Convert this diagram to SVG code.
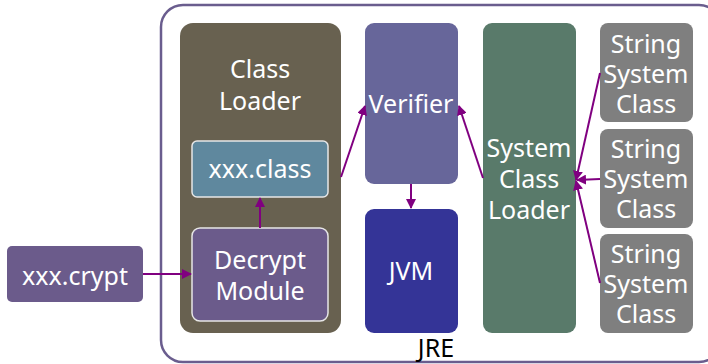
<svg xmlns="http://www.w3.org/2000/svg" width="708" height="364" viewBox="0 0 708 364">
  <style>
    .lbl { font-family: "Noto Sans", "DejaVu Sans", sans-serif; font-size: 25px; fill: #ffffff; text-anchor: middle; }
    .dark { fill: #000000; }
    .conn { stroke: #800080; stroke-width: 2; fill: none; marker-end: url(#arrow); }
  </style>
  <defs>
    <marker id="arrow" viewBox="0 0 10 10" refX="9" refY="5" markerWidth="5" markerHeight="5" orient="auto" markerUnits="strokeWidth">
      <path d="M0,0 L10,5 L0,10 z" fill="#800080"/>
    </marker>
  </defs>
  <rect width="708" height="364" fill="#ffffff"/>

  <!-- JRE boundary -->
  <g id="jre">
    <rect x="161" y="5" width="560" height="357" rx="22" fill="none" stroke="#6a5d8e" stroke-width="2.5"/>
    <text class="lbl dark" x="436" y="357">JRE</text>
  </g>

  <g id="class-loader">
    <rect x="180" y="23" width="161" height="310" rx="13" fill="#686150"/>
    <text class="lbl" x="260" y="78">Class</text>
    <text class="lbl" x="260" y="110">Loader</text>
  </g>

  <g id="xxx-class">
    <rect x="192" y="141" width="136" height="56" rx="5" fill="#5f889e" stroke="#e6e6e6" stroke-width="1.5"/>
    <text class="lbl" x="260" y="178">xxx.class</text>
  </g>

  <g id="decrypt-module">
    <rect x="192" y="228" width="136" height="93" rx="8" fill="#6b5b8b" stroke="#e6e6e6" stroke-width="1.5"/>
    <text class="lbl" x="260" y="269">Decrypt</text>
    <text class="lbl" x="260" y="300">Module</text>
  </g>

  <g id="xxx-crypt">
    <rect x="7" y="246" width="136" height="56" rx="5" fill="#6b5b8b"/>
    <text class="lbl" x="75" y="285">xxx.crypt</text>
  </g>

  <g id="verifier">
    <rect x="365" y="23" width="93" height="161" rx="9" fill="#67669a"/>
    <text class="lbl" x="411" y="113">Verifier</text>
  </g>

  <g id="jvm">
    <rect x="365" y="209" width="93" height="124" rx="9" fill="#343497"/>
    <text class="lbl" x="411" y="280">JVM</text>
  </g>

  <g id="system-class-loader">
    <rect x="483" y="23" width="93" height="310" rx="9" fill="#597a6a"/>
    <text class="lbl" x="529" y="157">System</text>
    <text class="lbl" x="529" y="188">Class</text>
    <text class="lbl" x="529" y="219">Loader</text>
  </g>

  <g id="string-1">
    <rect x="600" y="23" width="93" height="99" rx="8" fill="#7f7f7f"/>
    <text class="lbl" x="646" y="53">String</text>
    <text class="lbl" x="646" y="83">System</text>
    <text class="lbl" x="646" y="113">Class</text>
  </g>

  <g id="string-2">
    <rect x="600" y="129" width="93" height="99" rx="8" fill="#7f7f7f"/>
    <text class="lbl" x="646" y="158">String</text>
    <text class="lbl" x="646" y="188">System</text>
    <text class="lbl" x="646" y="218">Class</text>
  </g>

  <g id="string-3">
    <rect x="600" y="234" width="93" height="99" rx="8" fill="#7f7f7f"/>
    <text class="lbl" x="646" y="263">String</text>
    <text class="lbl" x="646" y="293">System</text>
    <text class="lbl" x="646" y="323">Class</text>
  </g>

  <!-- connectors -->
  <g id="connectors">
    <line class="conn" x1="143" y1="274" x2="191" y2="274"/>
    <line class="conn" x1="260" y1="228" x2="260" y2="198"/>
    <line class="conn" x1="341" y1="177" x2="365" y2="106"/>
    <line class="conn" x1="483" y1="178" x2="459" y2="106"/>
    <line class="conn" x1="411" y1="184" x2="411" y2="208"/>
    <line class="conn" x1="600" y1="73" x2="576" y2="180"/>
    <line class="conn" x1="600" y1="179" x2="577" y2="180"/>
    <line class="conn" x1="600" y1="283" x2="576" y2="181"/>
  </g>
</svg>
